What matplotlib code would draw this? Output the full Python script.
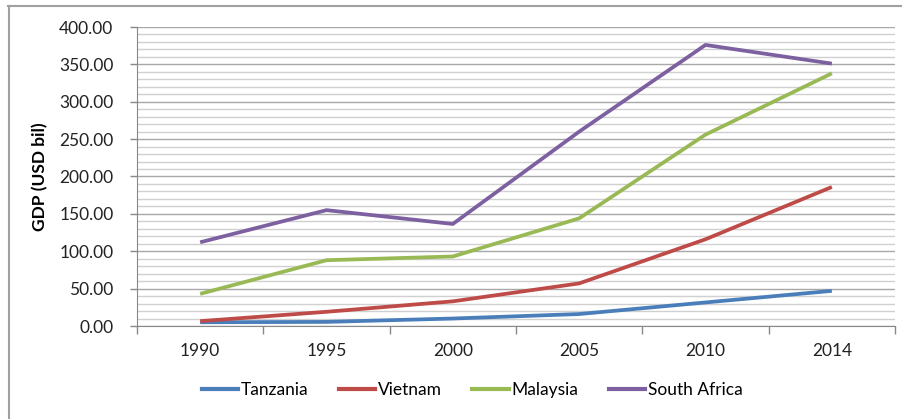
import matplotlib
matplotlib.use("Agg")
import matplotlib.pyplot as plt
from matplotlib.lines import Line2D
import numpy as np

years = ["1990", "1995", "2000", "2005", "2010", "2014"]
tanzania = [5.0, 5.5, 10.0, 16.0, 31.5, 47.0]
vietnam = [6.5, 19.0, 33.0, 57.0, 116.0, 186.0]
malaysia = [43.0, 88.0, 93.0, 144.0, 256.0, 338.0]
south_africa = [112.0, 155.0, 136.5, 260.0, 376.0, 351.0]

series = [("Tanzania", tanzania, "#4A7EBB"),
          ("Vietnam", vietnam, "#BE4B48"),
          ("Malaysia", malaysia, "#98B954"),
          ("South Africa", south_africa, "#7D60A0")]

plt.rcParams['font.family'] = ['Lato', 'DejaVu Sans']
FS = 12.5

W, H = 903, 419
fig = plt.figure(figsize=(W/100, H/100), dpi=100)
ax = fig.add_axes([137/W, 1-326/H, (895-137)/W, (326-27)/H])

x = np.arange(len(years))
for name, vals, col in series:
    ax.plot(x, vals, color=col, lw=2.7, label=name, solid_joinstyle='round', solid_capstyle='butt', zorder=3)

ax.set_xlim(-0.5, len(years)-0.5)
ax.set_ylim(0, 400)
ax.set_yticks(np.arange(0, 401, 50))
ax.set_yticklabels([f"{v:.2f}" for v in np.arange(0, 401, 50)], fontsize=FS, color="#222222")
ax.set_yticks(np.arange(0, 401, 10), minor=True)
ax.set_xticks(x)
ax.set_xticklabels(years, fontsize=FS, color="#222222")
ax.set_xticks(np.arange(-0.5, len(years), 1), minor=True)

ax.tick_params(axis='x', which='major', length=0, pad=12)
ax.tick_params(axis='x', which='minor', length=6, color="#888888", width=1)
ax.tick_params(axis='y', which='major', length=5, color="#888888", width=1, pad=12)
ax.tick_params(axis='y', which='minor', length=0)

ax.grid(axis='y', which='minor', color="#D0D0D0", lw=1.0, zorder=0)
ax.grid(axis='y', which='major', color="#A8A8A8", lw=1.0, zorder=1)
ax.grid(axis='x', which='both', visible=False)

for s in ['top', 'right']:
    ax.spines[s].set_visible(False)
ax.spines['left'].set_color("#888888")
ax.spines['bottom'].set_color("#888888")

ax.set_ylabel("GDP (USD bil)", fontsize=FS, fontweight='bold', labelpad=8)

handles = [Line2D([0], [0], color=c, lw=3) for _, _, c in series]
fig.legend(handles, [n for n, _, _ in series], loc='center', bbox_to_anchor=(472/W, 1-390/H),
           ncol=4, frameon=False, fontsize=FS, handlelength=2.1, handletextpad=0.15, columnspacing=1.75)

# outer frame
fig.add_artist(Line2D([8/W, 1], [1-6/H, 1-6/H], color="#A0A0A0", lw=1.5, transform=fig.transFigure))
fig.add_artist(Line2D([9/W, 9/W], [0, 1-6/H], color="#A0A0A0", lw=1.5, transform=fig.transFigure))

fig.savefig("out.png", dpi=100)
